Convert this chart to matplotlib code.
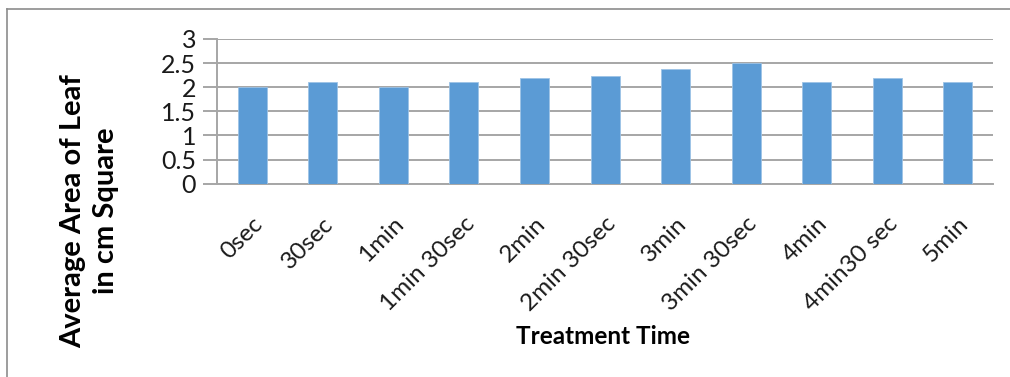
import numpy as np
import matplotlib.pyplot as plt
from matplotlib.lines import Line2D

plt.rcParams['font.family'] = ['Lato', 'DejaVu Sans']

# treatment times and mean leaf area (cm^2)
TreatTime = ['0sec', '30sec', '1min', '1min 30sec', '2min', '2min 30sec',
             '3min', '3min 30sec', '4min', '4min30 sec', '5min']
LeafArea = [2.0, 2.1, 2.0, 2.1, 2.2, 2.23, 2.37, 2.5, 2.1, 2.2, 2.1]
YTicks = [0, 0.5, 1, 1.5, 2, 2.5, 3]

BarColor = '#5B9BD5'
GridColor = '#A6A6A6'

fig = plt.figure(figsize=(10.1, 3.77), dpi=100)
ax = fig.add_axes([0.2149, 0.5127, 0.7683, 0.3839])

x = np.arange(len(TreatTime))
ax.bar(x, LeafArea, width=0.41, color=BarColor, edgecolor='#9DC3E6',
       linewidth=0.6, zorder=3)

ax.set_xlim(-0.5, len(TreatTime) - 0.5)
ax.set_ylim(0, 3)
ax.set_yticks(YTicks)
ax.set_yticklabels(['%g' % t for t in YTicks])
ax.yaxis.grid(True, color=GridColor, linewidth=1.4, zorder=0)

ax.set_xticks(x)
ax.set_xticklabels(TreatTime, rotation=45, ha='right', rotation_mode='anchor')

for s in ['top', 'right']:
    ax.spines[s].set_visible(False)
for s in ['left', 'bottom']:
    ax.spines[s].set_color(GridColor)
    ax.spines[s].set_linewidth(1.4)

ax.tick_params(axis='y', length=10, width=1.4, color=GridColor,
               labelsize=18, pad=5, labelcolor='#1a1a1a')
ax.tick_params(axis='x', length=0, labelsize=17.5, pad=21, labelcolor='#1a1a1a')

fig.text(90 / 1010, 1 - 211 / 377, 'Average Area of Leaf\nin cm Square',
         rotation=90, ha='center', va='center', fontsize=21,
         fontweight='bold', linespacing=1.32)
fig.text(603 / 1010, 1 - 337 / 377, 'Treatment Time', ha='center',
         va='center', fontsize=17.5, fontweight='bold')

# outer chart frame (top and left edges)
fig.add_artist(Line2D([7 / 1010, 1], [1 - 9 / 377, 1 - 9 / 377],
                      color='#8C8C8C', linewidth=1.2))
fig.add_artist(Line2D([7 / 1010, 7 / 1010], [0, 1 - 9 / 377],
                      color='#8C8C8C', linewidth=1.2))

fig.savefig('out.png', dpi=100)
